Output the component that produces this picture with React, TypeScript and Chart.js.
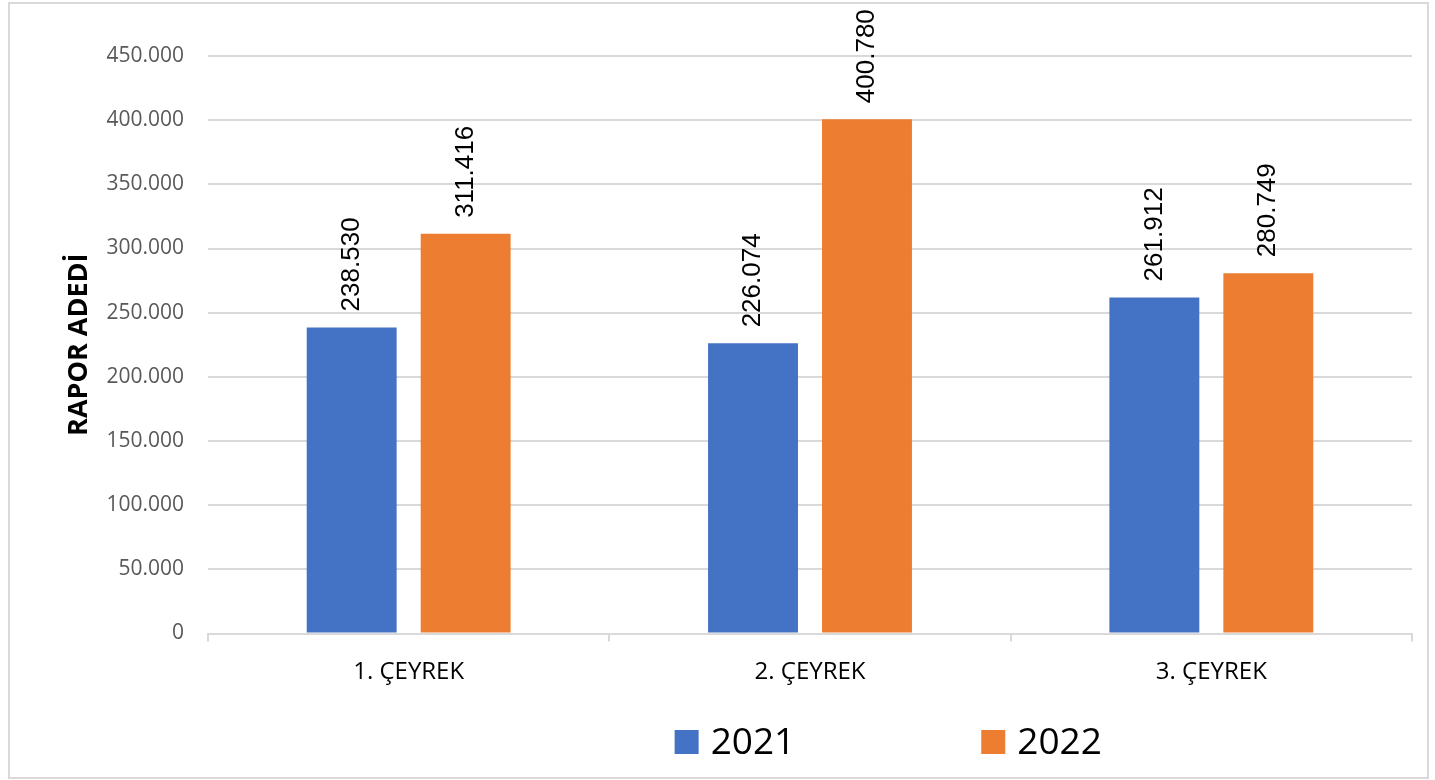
import React, { useEffect, useRef } from 'react';
import { Chart, registerables } from 'chart.js';

Chart.register(...registerables);

const categories = ['1. ÇEYREK', '2. ÇEYREK', '3. ÇEYREK'];
const seriesNames = ['2021', '2022'];
const values2021 = [238530, 226074, 261912];
const values2022 = [311416, 400780, 280749];
const yMin = 0;
const yMax = 450000;
const yStep = 50000;
const yTitle = 'RAPOR ADEDİ';

const COLORS = ['#4472C4', '#ED7D31'];
const GRID = '#d9d9d9';

function fmt(v: number): string {
  return String(Math.round(v)).replace(/\B(?=(\d{3})+(?!\d))/g, '.');
}

const dataLabelPlugin = {
  id: 'dataLabels',
  afterDatasetsDraw(chart: any) {
    const ctx = chart.ctx;
    chart.data.datasets.forEach((ds: any, i: number) => {
      const meta = chart.getDatasetMeta(i);
      meta.data.forEach((bar: any, j: number) => {
        const v = ds.data[j] as number;
        ctx.save();
        ctx.translate(bar.x, bar.y - 16);
        ctx.rotate(-Math.PI / 2);
        ctx.font = '26px "Liberation Sans", Arial, sans-serif';
        ctx.fillStyle = '#000000';
        ctx.textAlign = 'left';
        ctx.textBaseline = 'middle';
        ctx.fillText(fmt(v), 0, 0);
        ctx.restore();
      });
    });
  },
};

const legendPlugin = {
  id: 'customLegend',
  afterDraw(chart: any) {
    const ctx = chart.ctx;
    const area = chart.chartArea;
    const box = 24;
    const textGap = 12;
    const itemGap = 186;
    const centerX = area.left + (area.right - area.left) * 0.565;
    const centerY = chart.height - 35;
    ctx.save();
    ctx.font = '37px "Open Sans", sans-serif';
    const items = chart.data.datasets.map((ds: any) => {
      const w = ctx.measureText(ds.label).width;
      return { label: ds.label, color: ds.backgroundColor, w: box + textGap + w };
    });
    const total = items.reduce((s: number, it: any) => s + it.w, 0) + itemGap * (items.length - 1);
    let x = centerX - total / 2;
    items.forEach((it: any) => {
      ctx.fillStyle = it.color;
      ctx.fillRect(x, centerY - box / 2, box, box);
      ctx.fillStyle = '#000000';
      ctx.textAlign = 'left';
      ctx.textBaseline = 'middle';
      ctx.fillText(it.label, x + box + textGap, centerY + 1);
      x += it.w + itemGap;
    });
    ctx.restore();
  },
};

export default function App() {
  const canvasRef = useRef<HTMLCanvasElement | null>(null);

  useEffect(() => {
    if (!canvasRef.current) return;
    const chart = new Chart(canvasRef.current, {
      type: 'bar',
      data: {
        labels: categories,
        datasets: [
          {
            label: seriesNames[0],
            data: values2021,
            backgroundColor: COLORS[0],
            categoryPercentage: 0.568,
            barPercentage: 0.789,
          },
          {
            label: seriesNames[1],
            data: values2022,
            backgroundColor: COLORS[1],
            categoryPercentage: 0.568,
            barPercentage: 0.789,
          },
        ],
      },
      options: {
        animation: false,
        responsive: true,
        maintainAspectRatio: false,
        layout: { padding: { left: 53, right: 15, top: 52, bottom: 90.5 } },
        plugins: {
          legend: { display: false },
          tooltip: { enabled: false },
        },
        scales: {
          x: {
            grid: {
              display: true,
              drawOnChartArea: false,
              drawTicks: true,
              tickLength: 8,
              color: GRID,
              lineWidth: 2,
            },
            border: { display: true, color: GRID, width: 2 },
            ticks: {
              color: '#000000',
              padding: 16,
              font: { family: '"Open Sans", sans-serif', size: 24 },
            },
            afterFit: (scale: any) => {
              scale.height = 53;
            },
          },
          y: {
            min: yMin,
            max: yMax,
            ticks: {
              stepSize: yStep,
              color: '#595959',
              padding: 24,
              font: { family: '"Open Sans", sans-serif', size: 21 },
              callback: (v: any) => fmt(Number(v)),
            },
            grid: { color: GRID, lineWidth: 2, drawTicks: false },
            border: { display: false },
            title: {
              display: true,
              text: yTitle,
              color: '#000000',
              padding: 0,
              font: { family: '"Open Sans", sans-serif', size: 27, weight: 'bold' },
            },
            afterFit: (scale: any) => {
              scale.width = 145;
            },
          },
        },
      },
      plugins: [dataLabelPlugin, legendPlugin],
    } as any);
    return () => chart.destroy();
  }, []);

  return (
    <div
      style={{
        position: 'absolute',
        left: 8,
        top: 2,
        width: 1417,
        height: 773,
        border: '2px solid #d9d9d9',
        background: '#ffffff',
      }}
    >
      <div style={{ position: 'relative', width: 1417, height: 773 }}>
        <canvas ref={canvasRef} />
      </div>
    </div>
  );
}
